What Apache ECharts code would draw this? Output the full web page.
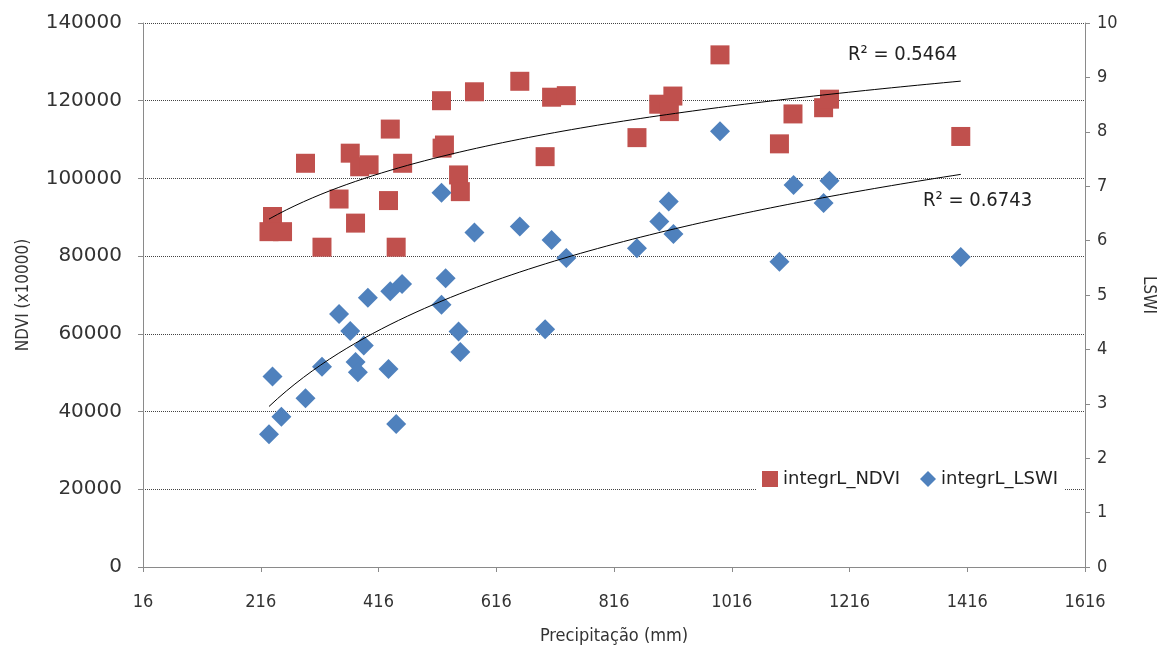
<!DOCTYPE html>
<html>
<head>
<meta charset="utf-8">
<script src="https://cdn.jsdelivr.net/npm/echarts@6/dist/echarts.min.js"></script>
<style>
  html, body { margin: 0; padding: 0; background: #fff; }
  #chart { width: 1165px; height: 650px; }
</style>
</head>
<body>
<div id="chart"></div>
<script>
// precipitacao (mm) e valores integrados
var ndviPrecip = [236, 230, 253, 292, 320, 349, 368, 377, 384, 400, 436, 457, 433, 446,
    523, 524, 528, 552, 555, 579, 656, 699, 710, 735, 855, 892, 916, 910, 996, 1097,
    1120, 1172, 1182, 1405];
var ndviValues = [90200, 86300, 86300, 103900, 82300, 94700, 106500, 88500, 103000, 103500,
    112700, 103900, 94300, 82300, 120000, 107800, 108600, 100900, 96600, 122300, 125000,
    105600, 120900, 121300, 110500, 119100, 121200, 117200, 131800, 108900, 116600,
    118200, 120400, 110800];

var lswiPrecip = [236, 230, 251, 292, 320, 349, 368, 391, 377, 381, 398, 436, 456, 433, 446,
    523, 530, 523, 552, 555, 579, 656, 699, 710, 735, 855, 893, 909, 917, 996, 1097,
    1121, 1172, 1182, 1405];
var lswiValues = [3.50, 2.44, 2.76, 3.10, 3.68, 4.65, 4.34, 4.07, 3.77, 3.58, 4.95, 5.07,
    5.20, 3.64, 2.63, 6.88, 5.31, 4.82, 4.33, 3.95, 6.15, 6.26, 4.37, 6.01, 5.68, 5.86,
    6.35, 6.72, 6.12, 8.01, 5.61, 7.02, 6.69, 7.10, 5.70];

var xTicks = [16, 216, 416, 616, 816, 1016, 1216, 1416, 1616];
var r2Labels = ['R\u00b2 = 0.5464', 'R\u00b2 = 0.6743'];

// ajuste logaritmico y = a + b ln(x)
function logFit(xs, ys) {
    var n = xs.length, mx = 0, my = 0, sxy = 0, sxx = 0;
    for (var i = 0; i < n; i++) { mx += Math.log(xs[i]); my += ys[i]; }
    mx /= n; my /= n;
    for (var j = 0; j < n; j++) {
        var d = Math.log(xs[j]) - mx;
        sxy += d * (ys[j] - my);
        sxx += d * d;
    }
    var b = sxy / sxx;
    var a = my - b * mx;
    var lo = Math.min.apply(null, xs), hi = Math.max.apply(null, xs);
    var pts = [];
    for (var k = 0; k <= 80; k++) {
        var x = lo + (hi - lo) * k / 80;
        pts.push([x, a + b * Math.log(x)]);
    }
    return pts;
}

function pairs(xs, ys) {
    return xs.map(function (x, i) { return [x, ys[i]]; });
}

function plain(v) { return String(v); }

var myChart = echarts.init(document.getElementById('chart'));
var labelFont = 'DejaVu Sans Condensed, DejaVu Sans, sans-serif';
var wideFont = 'DejaVu Sans, sans-serif';

var option = {
    backgroundColor: '#fff',
    animation: false,
    grid: { left: 143, right: 78, top: 23, bottom: 83 },
    legend: {
        left: 756,
        top: 466,
        itemWidth: 16,
        itemHeight: 16,
        itemGap: 20,
        backgroundColor: '#fff',
        padding: [4, 6],
        textStyle: { fontFamily: wideFont, fontSize: 18, color: '#222' },
        data: [
            { name: 'integrL_NDVI', icon: 'rect' },
            { name: 'integrL_LSWI', icon: 'diamond' }
        ]
    },
    xAxis: {
        type: 'value',
        min: xTicks[0],
        max: xTicks[xTicks.length - 1],
        interval: 200,
        name: 'Precipitação (mm)',
        nameLocation: 'middle',
        nameGap: 60,
        nameTextStyle: { fontFamily: labelFont, fontSize: 18, color: '#333' },
        axisLine: { lineStyle: { color: '#8a8a8a' } },
        axisTick: { show: true, length: 5, lineStyle: { color: '#8a8a8a' } },
        axisLabel: { fontFamily: labelFont, fontSize: 18, color: '#333', margin: 26, formatter: plain },
        splitLine: { show: false }
    },
    yAxis: [
        {
            type: 'value',
            min: 0,
            max: 140000,
            interval: 20000,
            name: 'NDVI (x10000)',
            nameLocation: 'middle',
            nameGap: 111,
            nameTextStyle: { fontFamily: labelFont, fontSize: 17, color: '#333' },
            axisLine: { show: true, lineStyle: { color: '#8a8a8a' } },
            axisTick: { show: true, length: 5, lineStyle: { color: '#8a8a8a' } },
            axisLabel: { fontFamily: wideFont, fontSize: 20, color: '#333', margin: 21, formatter: plain },
            splitLine: { show: true, lineStyle: { color: '#444', type: 'dotted', width: 1 } }
        },
        {
            type: 'value',
            min: 0,
            max: 10,
            interval: 1,
            name: 'LSWI',
            nameLocation: 'middle',
            nameGap: 55,
            nameRotate: -90,
            nameTextStyle: { fontFamily: labelFont, fontSize: 17, color: '#333' },
            axisLine: { show: true, lineStyle: { color: '#8a8a8a' } },
            axisTick: { show: true, length: 5, lineStyle: { color: '#8a8a8a' } },
            axisLabel: { fontFamily: labelFont, fontSize: 18, color: '#333', margin: 12 },
            splitLine: { show: false }
        }
    ],
    graphic: [
        { type: 'text', left: 848, top: 45, style: { text: r2Labels[0], fontFamily: labelFont, fontSize: 20, fill: '#222' } },
        { type: 'text', left: 923, top: 191, style: { text: r2Labels[1], fontFamily: labelFont, fontSize: 20, fill: '#222' } }
    ],
    series: [
        {
            name: 'integrL_NDVI',
            type: 'scatter',
            yAxisIndex: 0,
            symbol: 'rect',
            symbolSize: 19,
            itemStyle: { color: '#C0504D', opacity: 1 },
            data: pairs(ndviPrecip, ndviValues)
        },
        {
            name: 'integrL_LSWI',
            type: 'scatter',
            yAxisIndex: 1,
            symbol: 'diamond',
            symbolSize: 20,
            itemStyle: { color: '#4F81BD', opacity: 1 },
            data: pairs(lswiPrecip, lswiValues)
        },
        {
            name: 'trendNDVI',
            type: 'line',
            yAxisIndex: 0,
            showSymbol: false,
            silent: true,
            z: 5,
            lineStyle: { color: '#000', width: 1 },
            data: logFit(ndviPrecip, ndviValues)
        },
        {
            name: 'trendLSWI',
            type: 'line',
            yAxisIndex: 1,
            showSymbol: false,
            silent: true,
            z: 5,
            lineStyle: { color: '#000', width: 1 },
            data: logFit(lswiPrecip, lswiValues)
        }
    ]
};
myChart.setOption(option);
</script>
</body>
</html>
